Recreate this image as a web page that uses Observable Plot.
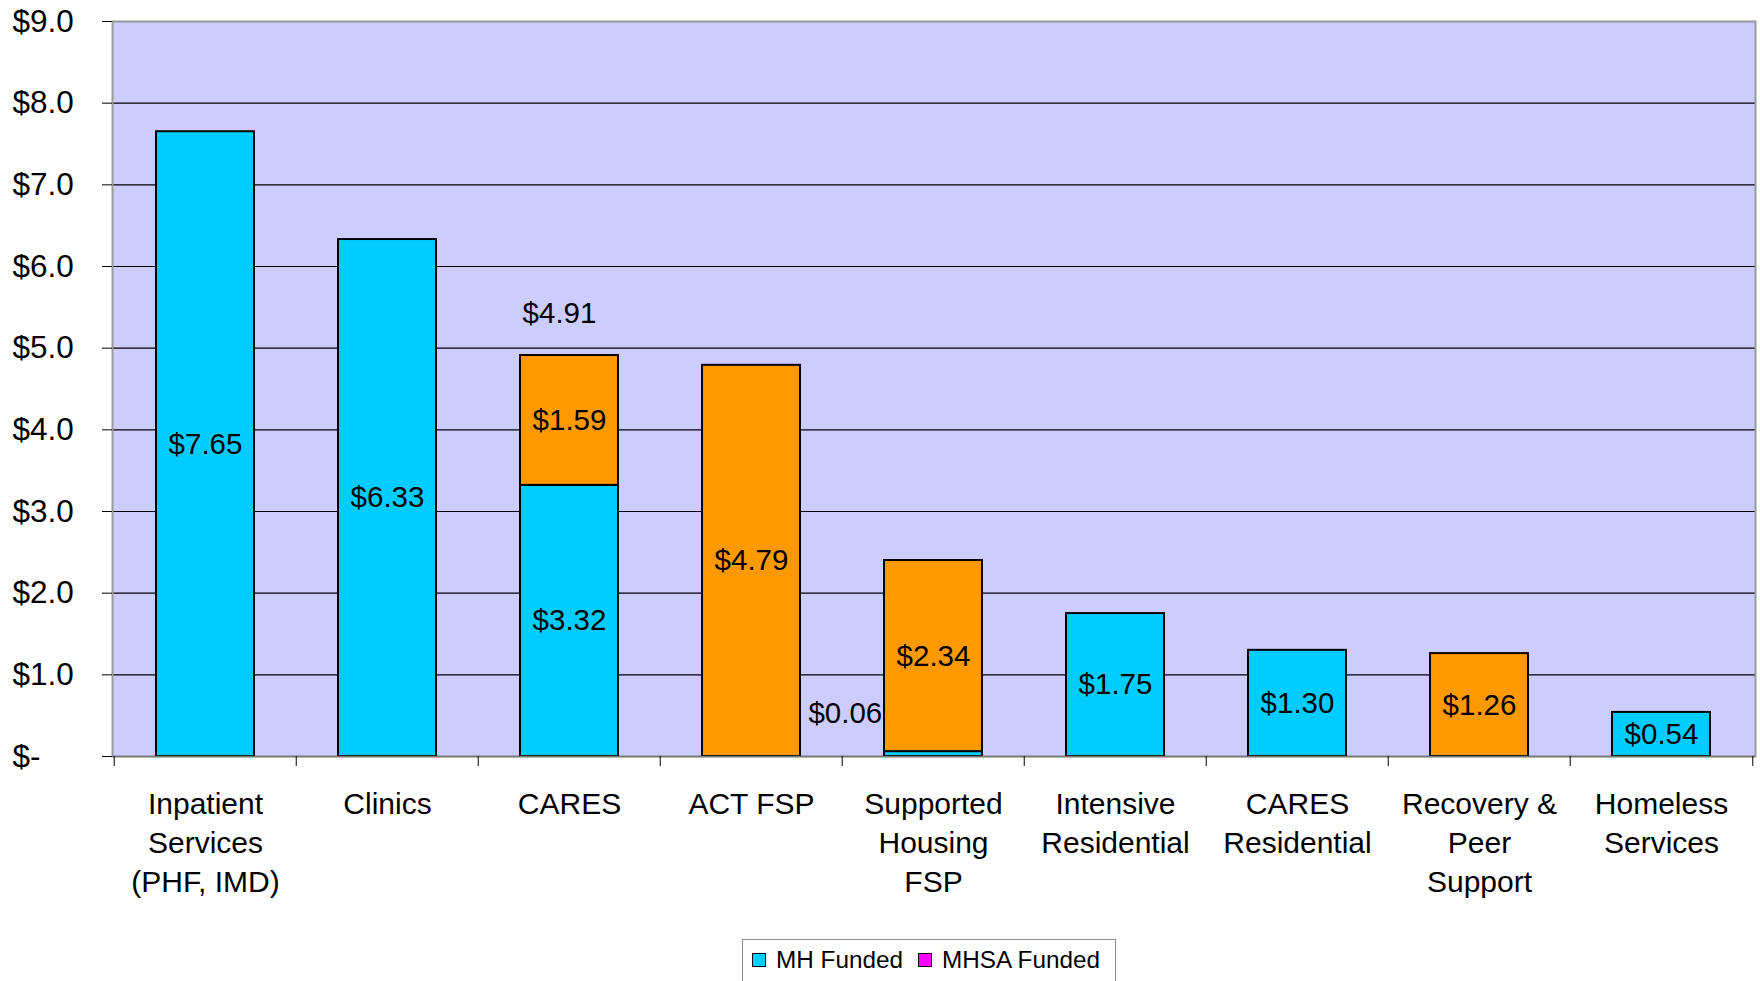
<!DOCTYPE html>
<html>
<head>
<meta charset="utf-8">
<script src="https://cdn.jsdelivr.net/npm/d3@7"></script>
<script src="https://cdn.jsdelivr.net/npm/@observablehq/plot@0.6"></script>
<style>
  body { margin: 0; background: #fff; font-family: "Liberation Sans", Arial, sans-serif; }
  #wrap { position: relative; width: 1760px; height: 981px; overflow: hidden; background: #fff; }
  #legend { position: absolute; left: 742px; top: 939px; width: 374px; height: 50px;
            border: 1.5px solid #8c8c8c; background: #fff; box-sizing: border-box; white-space: nowrap;
            display: flex; align-items: center; padding: 0 0 8px 9px; font-size: 24.3px; color: #000;
            font-family: "Liberation Sans", Arial, sans-serif; }
  #legend .item { display: flex; align-items: center; margin-right: 15px; flex-shrink: 0; white-space: nowrap; }
  #legend .sw { width: 12px; height: 12px; border: 1.5px solid #000; margin-right: 10px; flex-shrink: 0; }
</style>
</head>
<body>
<div id="wrap"></div>
<script>
// ---- data ----
const categories = ["Inpatient Services (PHF, IMD)", "Clinics", "CARES", "ACT FSP", "Supported Housing FSP",
                    "Intensive Residential", "CARES Residential", "Recovery & Peer Support", "Homeless Services"];
const categoryLabels = ["Inpatient\nServices\n(PHF, IMD)", "Clinics", "CARES", "ACT FSP", "Supported\nHousing\nFSP",
                        "Intensive\nResidential", "CARES\nResidential", "Recovery &\nPeer\nSupport", "Homeless\nServices"];
const mhFunded   = [7.65, 6.33, 3.32, 0,    0.06, 1.75, 1.30, 0,    0.54];
const mhsaFunded = [0,    0,    1.59, 4.79, 2.34, 0,    0,    1.26, 0   ];
const seriesNames = ["MH Funded", "MHSA Funded"];
const barColors = ["#00CCFF", "#FF9900"];
const legendColors = ["#00CCFF", "#FF00FF"];
const yTicks = [0, 1, 2, 3, 4, 5, 6, 7, 8, 9];
const totalCategories = ["CARES"];
const totalValues = [4.91];

// ---- build tables ----
const rows = [];
categories.forEach((c, i) => {
  if (mhFunded[i] > 0) rows.push({category: c, series: seriesNames[0], value: mhFunded[i]});
  if (mhsaFunded[i] > 0) rows.push({category: c, series: seriesNames[1], value: mhsaFunded[i]});
});
const totals = totalCategories.map((c, i) => ({category: c, total: totalValues[i]}));
const fmt = v => "$" + v.toFixed(2);
const isSmall = d => d.value < 0.2;

const W = 1760, H = 935, ML = 112, MR = 5, MT = 21, MB = H - 756;
const step = (W - ML - MR) / categories.length;
const FONT = '"Liberation Sans", Arial, sans-serif';

const chart = Plot.plot({
  width: W, height: H,
  marginLeft: ML, marginRight: MR, marginTop: MT, marginBottom: MB,
  style: {fontFamily: FONT, fontSize: "29px", color: "#000", background: "#fff", overflow: "visible"},
  x: {domain: categories, paddingInner: 0.46, paddingOuter: 0.23, label: null},
  y: {domain: [0, 9], label: null},
  color: {domain: seriesNames, range: barColors},
  marks: [
    Plot.frame({fill: "#CCCCFF", stroke: null}),
    Plot.ruleY(yTicks.filter(t => t > 0 && t < 9), {stroke: "#000", strokeWidth: 1.2}),
    Plot.frame({stroke: "#999", strokeWidth: 2}),
    Plot.barY(rows, Plot.stackY({x: "category", y: "value", fill: "series", stroke: "#000", strokeWidth: 2})),
    Plot.text(rows, Plot.stackY({x: "category", y: "value", z: "series",
      text: d => isSmall(d) ? "" : fmt(d.value), fontSize: 29.5, fill: "#000"})),
    Plot.text(rows.filter(isSmall), {x: "category", y: 0, text: d => fmt(d.value),
      textAnchor: "end", dx: -step * 0.27 - 2, dy: -43, fontSize: 29.5, fill: "#000"}),
    Plot.text(totals, {x: "category", y: "total", text: d => fmt(d.total), dx: -10, dy: -42, fontSize: 29.5, fill: "#000"}),
    Plot.ruleY([0], {stroke: "#777", strokeWidth: 1.5}),
    Plot.axisY({ticks: yTicks, tickSize: 10, tickPadding: 90, textAnchor: "start",
      tickFormat: d => d === 0 ? "$-" : "$" + d.toFixed(1), fontSize: 31.5, label: null}),
    Plot.axisX({ticks: categories, tickSize: 10, tickFormat: () => "", dx: -step / 2, label: null}),
    Plot.axisX({ticks: [categories[categories.length - 1]], tickSize: 10, tickFormat: () => "", dx: step / 2, label: null}),
    Plot.axisX({tickSize: 0, tickPadding: 30, fontSize: 30, lineHeight: 1.3, label: null,
      tickFormat: d => categoryLabels[categories.indexOf(d)]})
  ]
});
const wrap = document.getElementById("wrap");
wrap.appendChild(chart);

// ---- legend ----
const legend = document.createElement("div");
legend.id = "legend";
seriesNames.forEach((name, i) => {
  const item = document.createElement("div");
  item.className = "item";
  const sw = document.createElement("div");
  sw.className = "sw";
  sw.style.background = legendColors[i];
  const label = document.createElement("span");
  label.textContent = name;
  item.appendChild(sw);
  item.appendChild(label);
  legend.appendChild(item);
});
wrap.appendChild(legend);
</script>
</body>
</html>
